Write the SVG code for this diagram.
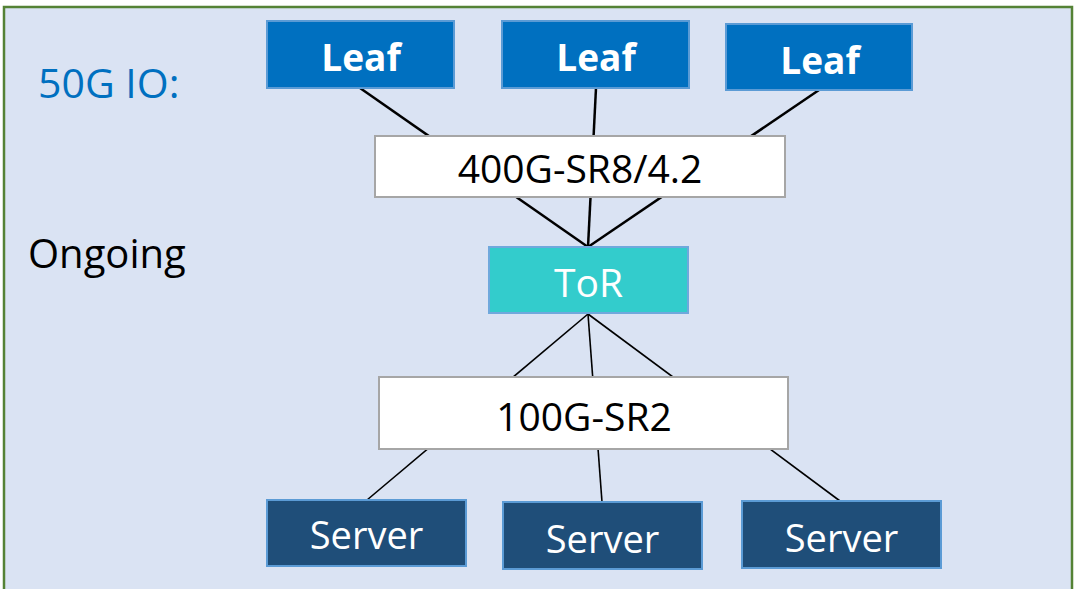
<svg xmlns="http://www.w3.org/2000/svg" width="1074" height="589" viewBox="0 0 1074 589">
<style>
.frame{fill:#DAE3F3;stroke:#548235;stroke-width:2.5}
.leaf{fill:#0070C0;stroke:#5B9BD5;stroke-width:2}
.leaf-t{font-family:"Open Sans","Liberation Sans",sans-serif;font-weight:bold;font-size:37px;fill:#FFFFFF;text-anchor:middle}
.mod{fill:#FFFFFF;stroke:#A6A6A6;stroke-width:2}
.mod-t{font-family:"Open Sans","Liberation Sans",sans-serif;font-size:39px;fill:#000000;text-anchor:middle}
.tor{fill:#33CCCC;stroke:#6FA8DC;stroke-width:2}
.tor-t{font-family:"Open Sans","Liberation Sans",sans-serif;font-size:39px;fill:#FFFFFF;text-anchor:middle}
.srv{fill:#1F4E79;stroke:#5B9BD5;stroke-width:2}
.srv-t{font-family:"Open Sans","Liberation Sans",sans-serif;font-size:38px;fill:#FFFFFF;text-anchor:middle}
.lbl-blue{font-family:"Open Sans","Liberation Sans",sans-serif;font-size:41px;fill:#0070C0}
.lbl{font-family:"Open Sans","Liberation Sans",sans-serif;font-size:40px;fill:#000000}
.up{stroke:#000000;stroke-width:2.5;fill:none}
.dn{stroke:#000000;stroke-width:1.6;fill:none}
</style>
<rect class="frame" x="4" y="7" width="1068" height="600"/>
<text class="lbl-blue" x="38" y="98">50G IO:</text>
<text class="lbl" x="28" y="268">Ongoing</text>
<g id="connectors">
<line class="up" x1="360" y1="88" x2="588" y2="247"/>
<line class="up" x1="596" y1="88" x2="588" y2="247"/>
<line class="up" x1="819" y1="90" x2="588" y2="247"/>
<line class="dn" x1="588" y1="314" x2="367" y2="500"/>
<line class="dn" x1="588" y1="314" x2="602" y2="502"/>
<line class="dn" x1="588" y1="314" x2="840" y2="501"/>
</g>
<g id="leaf1"><rect class="leaf" x="267" y="21" width="187" height="67"/><text class="leaf-t" x="361" y="71">Leaf</text></g>
<g id="leaf2"><rect class="leaf" x="502" y="21" width="187" height="67"/><text class="leaf-t" x="596" y="71">Leaf</text></g>
<g id="leaf3"><rect class="leaf" x="726" y="24" width="186" height="66"/><text class="leaf-t" x="820" y="74">Leaf</text></g>
<g id="mod400"><rect class="mod" x="375" y="136" width="410" height="61"/><text class="mod-t" x="580" y="183">400G-SR8/4.2</text></g>
<g id="tor"><rect class="tor" x="489" y="247" width="199" height="66"/><text class="tor-t" x="588.5" y="297">ToR</text></g>
<g id="mod100"><rect class="mod" x="379" y="377" width="409" height="72"/><text class="mod-t" x="584" y="431">100G-SR2</text></g>
<g id="server1"><rect class="srv" x="267" y="500" width="199" height="66"/><text class="srv-t" x="366.5" y="549">Server</text></g>
<g id="server2"><rect class="srv" x="503" y="502" width="199" height="67"/><text class="srv-t" x="602.5" y="553">Server</text></g>
<g id="server3"><rect class="srv" x="742" y="501" width="199" height="67"/><text class="srv-t" x="841.5" y="552">Server</text></g>
</svg>
